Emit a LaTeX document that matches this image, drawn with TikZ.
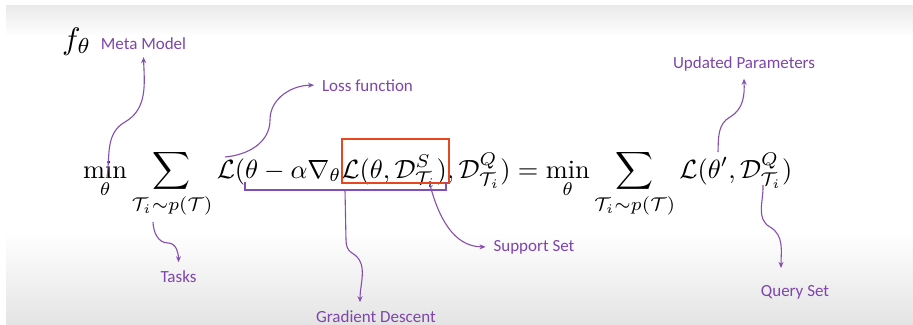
\documentclass[tikz,border=0pt]{standalone}
\usepackage{graphicx}
\usepackage{amsmath}
\usepackage{fontspec}
\setsansfont{Carlito}
\usetikzlibrary{arrows.meta, positioning, calc}
\definecolor{purp}{HTML}{7030A0}
\definecolor{hlred}{HTML}{E8461F}
\definecolor{shadegray}{HTML}{E4E4E4}
\tikzset{
  tag/.style={font=\sffamily\fontsize{17}{20}\selectfont, text=purp!90,
              inner sep=0pt, outer sep=8pt, anchor=base},
  pointer/.style={-{Stealth[length=6pt,width=5pt]}, line width=1.1pt, draw=purp!85},
  hlbox/.style={rectangle, draw=hlred, line width=1.4pt, inner sep=0pt},
  bracket/.style={line width=1.1pt, draw=purp!85},
  formula/.style={inner sep=0pt, anchor=base west},
}

\begin{document}
\begin{tikzpicture}[x=1pt, y=-1pt]
  % slide background
  \useasboundingbox (0,0) rectangle (913,324);
  \fill[white] (0,0) rectangle (913,324);
  \shade[top color=shadegray!80, bottom color=white] (6,5) rectangle (913,36);
  \shade[top color=white, bottom color=shadegray] (6,232) rectangle (913,324);

  % formulas
  \node[formula] (ftheta) at (62,49) {\scalebox{3.1}{$f_{\theta}$}};
  \node[formula] (objective) at (83,178)
    {\resizebox{709pt}{!}{$\displaystyle \min_{\theta} \sum_{\mathcal{T}_i\sim p(\mathcal{T})}
      \mathcal{L}(\theta-\alpha\nabla_{\theta}\mathcal{L}(\theta,\mathcal{D}^{S}_{\mathcal{T}_i}),
      \mathcal{D}^{Q}_{\mathcal{T}_i})
      = \min_{\theta} \sum_{\mathcal{T}_i\sim p(\mathcal{T})}
      \mathcal{L}(\theta',\mathcal{D}^{Q}_{\mathcal{T}_i})$}};
  \node[hlbox, minimum width=107pt, minimum height=44pt] (inner) at (395.5,161) {};

  % labels
  \node[tag] (meta)  at (143.5,49) {Meta Model};
  \node[tag] (loss)  at (367.5,91) {Loss function};
  \node[tag] (upd)   at (744,68)   {Updated Parameters};
  \node[tag] (sup)   at (534,251)  {Support Set};
  \node[tag] (tasks) at (178.5,282) {Tasks};
  \node[tag] (gd)    at (376,322)  {Gradient Descent};
  \node[tag] (query) at (795,296)  {Query Set};

  % where the pointers start
  \coordinate (minpt)   at (107,178);
  \coordinate (lpt)     at (225,157);
  \coordinate (thpt)    at (718,152);
  \coordinate (spt)     at (430,185);
  \coordinate (qpt)     at (763,185);
  \coordinate (taskpt)  at (153,222);
  \coordinate (brmid)   at (345,190);

  % bracket under the inner update
  \draw[bracket] (245,182) |- (brmid) -| (446,182);

  \draw[pointer] (minpt) to[out=82,in=210] (125,122) to[out=30,in=-88] (meta.south);
  \draw[pointer] (lpt) to[out=5,in=-90] (270,120) to[out=90,in=180] (loss.west);
  \draw[pointer] (thpt) to[out=88,in=210] (730,117) to[out=30,in=-88] (upd.south);
  \draw[pointer] (spt) to[out=-75,in=180] (sup.west);
  \draw[pointer] (qpt) to[out=-88,in=150] (770,227) to[out=-30,in=90] ([xshift=-14pt,yshift=9pt]query.north);
  \draw[pointer] (taskpt) to[out=-88,in=180] (168,243) to[out=0,in=90] (tasks.north);
  \draw[pointer] (brmid) -- (346,240) to[out=-88,in=150] (352,253) to[out=-30,in=90] ([xshift=-16pt]gd.north);
\end{tikzpicture}
\end{document}
